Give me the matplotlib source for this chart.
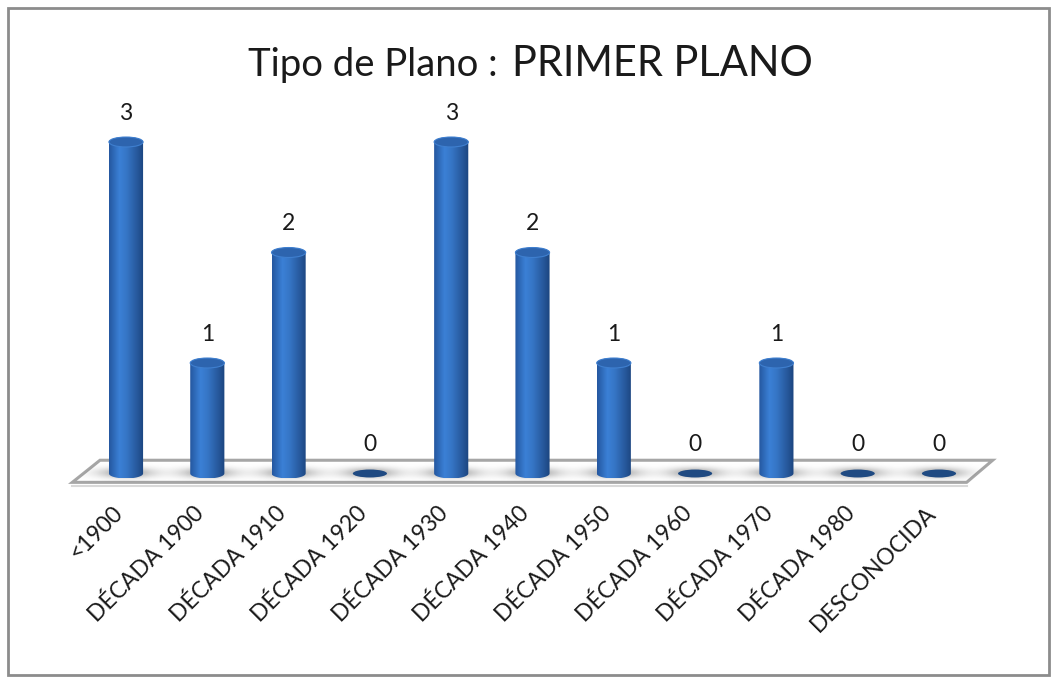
import numpy as np
import matplotlib
matplotlib.use('Agg')
import matplotlib.pyplot as plt
from matplotlib.patches import Polygon, Ellipse, Rectangle
from matplotlib.colors import LinearSegmentedColormap

# data
categories = ['<1900', 'DÉCADA 1900', 'DÉCADA 1910', 'DÉCADA 1920', 'DÉCADA 1930',
              'DÉCADA 1940', 'DÉCADA 1950', 'DÉCADA 1960', 'DÉCADA 1970',
              'DÉCADA 1980', 'DESCONOCIDA']
values = [3, 1, 2, 0, 3, 2, 1, 0, 1, 0, 0]
title_left = 'Tipo de Plano : '
title_right = 'PRIMER PLANO'

plt.rcParams['font.family'] = ['Lato', 'DejaVu Sans']

W, H = 1053, 677
fig = plt.figure(figsize=(W / 100, H / 100), dpi=100)
ax = fig.add_axes([0, 0, 1, 1])

# pixel layout -> data scale (first bar at 126px, 81.3px per category, 110.5px per unit)
x0_px, dx_px = 126, 81.3
base_px, dy_px = 473.5, 110.5
ax.set_xlim(-x0_px / dx_px, (W - x0_px) / dx_px)
ax.set_ylim(-(H - base_px) / dy_px, base_px / dy_px)
ax.axis('off')

n = len(categories)
x = np.arange(n)
bw = 0.42      # bar width (data units)
eh = 0.09      # ellipse height of cylinder caps

# floor slab
depth_x, front_y, back_y = 0.34, -0.08, 0.12
fl = [(-0.66, front_y), (-0.66 + depth_x, back_y), (n - 1 + 0.66, back_y), (n - 1 + 0.34, front_y)]
floor = Polygon(fl, closed=True, facecolor='white', edgecolor='#a6a6a6', lw=2.2, zorder=1)
ax.add_patch(floor)
ax.plot([fl[0][0], fl[3][0]], [front_y - 0.03, front_y - 0.03], color='#d9d9d9', lw=1.5, zorder=1)

# soft shadows along the floor
gx = np.linspace(-0.7, n - 1 + 0.7, 800)
gy = np.linspace(front_y, back_y, 60)
GX, GY = np.meshgrid(gx, gy)
a = np.zeros_like(GX)
for xi in x:
    a += np.exp(-((GX - xi) / 0.33) ** 2)
a = np.clip(a, 0, 1) * np.exp(-((GY - 0.0) / 0.045) ** 2) * 0.55
img = np.zeros(GX.shape + (4,))
img[..., :3] = 0.35
img[..., 3] = a
sh = ax.imshow(img, extent=(gx[0], gx[-1], gy[0], gy[-1]), origin='lower', aspect='auto', zorder=2)
sh.set_clip_path(floor)

cyl = LinearSegmentedColormap.from_list('cyl', [
    (0.0, '#24579f'), (0.3, '#3b80d6'), (0.5, '#3676c6'), (0.82, '#26579a'), (1.0, '#1b447e')])
grad = np.linspace(0, 1, 256).reshape(1, -1)

for xi, v in zip(x, values):
    if v > 0:
        t = np.linspace(np.pi, 2 * np.pi, 60)
        bottom = np.column_stack([xi + bw / 2 * np.cos(t), eh / 2 * np.sin(t)])
        t2 = np.linspace(0, np.pi, 60)
        top = np.column_stack([xi + bw / 2 * np.cos(t2), v + eh / 2 * np.sin(t2)])
        body = Polygon(np.vstack([bottom, top]), closed=True, facecolor='none', edgecolor='none')
        ax.add_patch(body)
        im = ax.imshow(grad, cmap=cyl, extent=(xi - bw / 2, xi + bw / 2, -eh / 2, v + eh / 2),
                       aspect='auto', zorder=3)
        im.set_clip_path(body)
        ax.add_patch(Ellipse((xi, v), bw, eh, facecolor='#2d64ae', edgecolor='#3f7fcf',
                             lw=0.8, zorder=4))
    else:
        ax.add_patch(Ellipse((xi, 0), bw, eh * 0.8, facecolor='#1f4a82', edgecolor='none', zorder=3))
    ax.text(xi, v + 0.26, str(v), ha='center', va='center', fontsize=16.5, color='#1a1a1a', zorder=5)

# category labels
for xi, lab in zip(x, categories):
    ax.text(xi - 0.08, -0.33, lab, rotation=45, rotation_mode='anchor', ha='right', va='center',
            fontsize=16.5, color='#1a1a1a')

# title in two sizes
fig.text(507 / W, 1 - 76 / H, title_left, ha='right', va='baseline', fontsize=27.5, color='#1a1a1a')
fig.text(512 / W, 1 - 76 / H, title_right, ha='left', va='baseline', fontsize=30, color='#1a1a1a')

# outer border
fig.patches.append(Rectangle((8 / W, 2 / H), 1041 / W, 667 / H, transform=fig.transFigure,
                             fill=False, edgecolor='#8c8c8c', lw=2))

fig.savefig('out.png', dpi=100)
